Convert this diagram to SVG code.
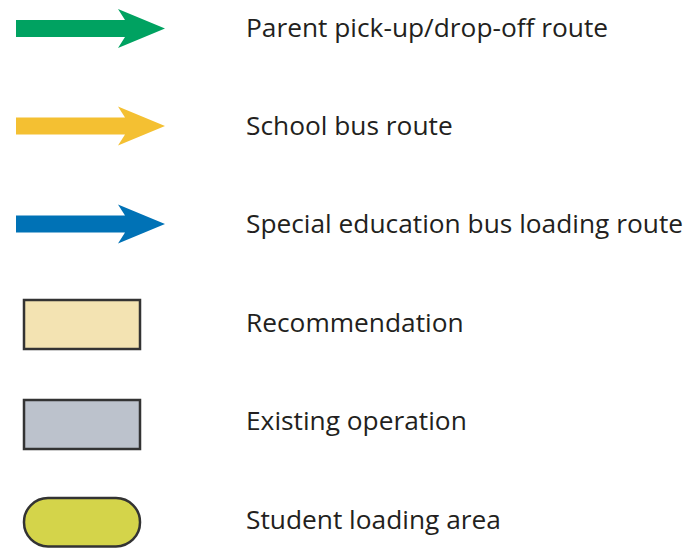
<svg xmlns="http://www.w3.org/2000/svg" width="690" height="548" viewBox="0 0 690 548">
<style>
text{font-family:"Open Sans","Liberation Sans",sans-serif;font-size:26.3px;fill:#231f20}
.box{stroke:#333333;stroke-width:2.5}
</style>
<defs>
<polygon id="arr" points="16,-8.5 125,-8.5 118,-19.5 165,0 118,19.5 125,8.5 16,8.5"/>
</defs>
<rect width="690" height="548" fill="#ffffff"/>
<g id="legend-parent">
<use href="#arr" y="28.5" fill="#00a261"/>
<text x="246" y="37">Parent pick-up/drop-off route</text>
</g>
<g id="legend-bus">
<use href="#arr" y="126" fill="#f4c032"/>
<text x="246" y="135">School bus route</text>
</g>
<g id="legend-sped">
<use href="#arr" y="224" fill="#0072b6"/>
<text x="246" y="233">Special education bus loading route</text>
</g>
<g id="legend-rec">
<rect class="box" x="24" y="300" width="116" height="49" fill="#f3e3b2"/>
<text x="246" y="332">Recommendation</text>
</g>
<g id="legend-exist">
<rect class="box" x="24" y="400" width="116" height="49" fill="#bcc2cc"/>
<text x="246" y="430">Existing operation</text>
</g>
<g id="legend-load">
<rect class="box" x="24" y="498" width="116" height="48.5" rx="24" fill="#d4d44a"/>
<text x="246" y="529">Student loading area</text>
</g>
</svg>
